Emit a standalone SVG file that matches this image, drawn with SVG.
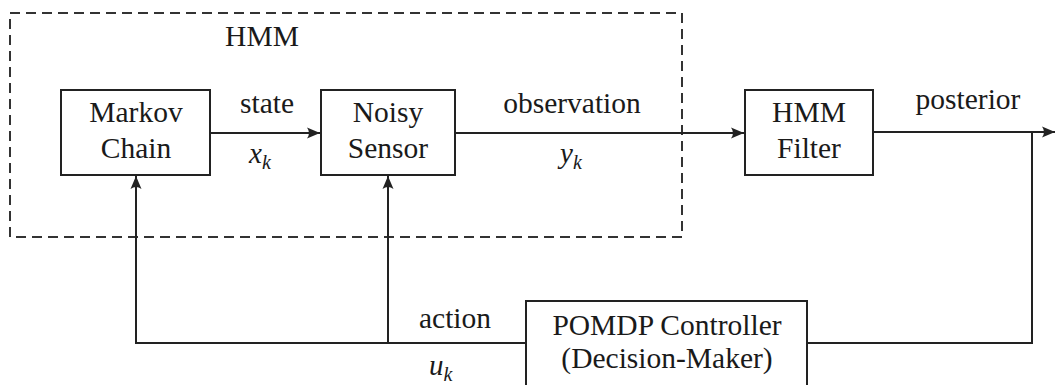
<svg xmlns="http://www.w3.org/2000/svg" width="1056" height="385" viewBox="0 0 1056 385">
  <style>
    .box { fill: #fff; stroke: #222; stroke-width: 2; }
    .line { fill: none; stroke: #222; stroke-width: 2; }
    .dash { fill: none; stroke: #333; stroke-width: 2; stroke-dasharray: 10 6; }
    .t { font-family: "Liberation Serif", "DejaVu Serif", serif; font-size: 29.5px; fill: #1a1a1a; text-anchor: middle; }
    .m { font-family: "Liberation Serif", "DejaVu Serif", serif; font-style: italic; font-size: 29px; fill: #1a1a1a; }
    .sub { font-size: 20px; }
  </style>
  <defs>
    <marker id="arr" markerUnits="userSpaceOnUse" markerWidth="16" markerHeight="14" viewBox="-14 -7 16 14" refX="0" refY="0" orient="auto">
      <path d="M0,0 L-13,-5.5 Q-9,0 -13,5.5 Z" fill="#222"/>
    </marker>
  </defs>

  <g id="hmm-group">
    <rect class="dash" x="10" y="13" width="672" height="224"/>
    <text class="t" x="262" y="46">HMM</text>
  </g>

  <g id="connectors">
    <line class="line" x1="210" y1="133" x2="320" y2="133" marker-end="url(#arr)"/>
    <line class="line" x1="455" y1="133" x2="744" y2="133" marker-end="url(#arr)"/>
    <line class="line" x1="873" y1="132" x2="1055" y2="132" marker-end="url(#arr)"/>
    <polyline class="line" points="1032,132 1032,343 807,343"/>
    <polyline class="line" points="527,343 136,343 136,176" marker-end="url(#arr)"/>
    <line class="line" x1="388" y1="343" x2="388" y2="176" marker-end="url(#arr)"/>
    <text class="t" x="267" y="113">state</text>
    <text class="m" x="249" y="163">x<tspan class="sub" dy="6">k</tspan></text>
    <text class="t" x="572" y="113">observation</text>
    <text class="m" x="560" y="163">y<tspan class="sub" dy="6">k</tspan></text>
    <text class="t" x="968" y="109">posterior</text>
    <text class="t" x="455" y="328">action</text>
    <text class="m" x="429" y="375">u<tspan class="sub" dy="6">k</tspan></text>
  </g>

  <g id="markov-chain">
    <rect class="box" x="61" y="90" width="149" height="85"/>
    <text class="t" x="136" y="122">Markov</text>
    <text class="t" x="136" y="158">Chain</text>
  </g>

  <g id="noisy-sensor">
    <rect class="box" x="321" y="90" width="134" height="85"/>
    <text class="t" x="388" y="122">Noisy</text>
    <text class="t" x="388" y="158">Sensor</text>
  </g>

  <g id="hmm-filter">
    <rect class="box" x="745" y="90" width="128" height="85"/>
    <text class="t" x="809" y="122">HMM</text>
    <text class="t" x="809" y="158">Filter</text>
  </g>

  <g id="pomdp-controller">
    <rect class="box" x="526" y="301" width="281" height="90"/>
    <text class="t" x="667" y="335">POMDP Controller</text>
    <text class="t" x="667" y="368">(Decision-Maker)</text>
  </g>
</svg>
